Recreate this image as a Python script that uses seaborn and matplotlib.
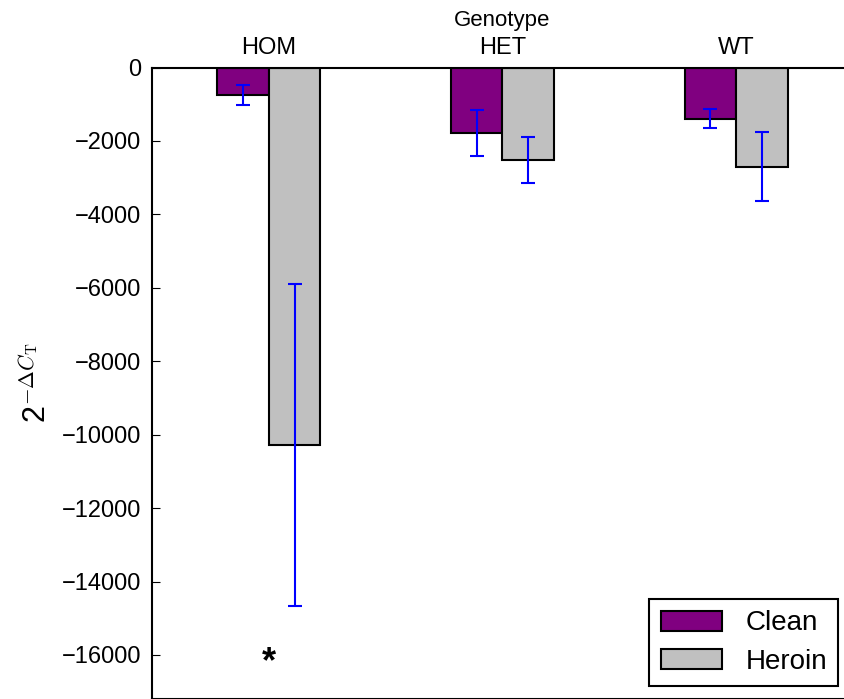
import matplotlib
matplotlib.use("Agg")
import matplotlib.pyplot as plt
import seaborn as sns
import pandas as pd

# values
genotypes = ['HOM', 'HET', 'WT']
treatments = ['Clean', 'Heroin']
clean_mean = [-750, -1780, -1390]
heroin_mean = [-10290, -2520, -2700]
clean_err = [265, 635, 250]
heroin_err = [4390, 615, 930]
colors = ['#800080', '#c0c0c0']

df = pd.DataFrame({
    'Genotype': genotypes * 2,
    'Treatment': ['Clean'] * 3 + ['Heroin'] * 3,
    'value': clean_mean + heroin_mean,
})
errs = {'Clean': clean_err, 'Heroin': heroin_err}

sns.set_style('ticks', {'text.color': 'black', 'axes.labelcolor': 'black',
                        'xtick.color': 'black', 'ytick.color': 'black',
                        'axes.edgecolor': 'black'})
plt.rcParams['font.family'] = ['Liberation Sans', 'DejaVu Sans']
plt.rcParams['mathtext.fontset'] = 'cm'

fig = plt.figure(figsize=(8.45, 6.99), dpi=100)
ax = fig.add_axes([152 / 845, 0, 701 / 845, 1 - 67.5 / 699])

sns.barplot(data=df, x='Genotype', y='value', hue='Treatment', order=genotypes,
            hue_order=treatments, palette=colors, saturation=1, width=0.44, gap=0,
            errorbar=None, edgecolor='black', linewidth=1.5, ax=ax)

# error bars on top of the bars seaborn drew
for cont, t in zip(ax.containers, treatments):
    xs = [b.get_x() + b.get_width() / 2 for b in cont]
    ys = [b.get_y() + b.get_height() for b in cont]
    ax.errorbar(xs, ys, yerr=errs[t], fmt='none', ecolor='blue', elinewidth=1.5,
                capsize=5, capthick=1.5, zorder=5)

# significance mark
ax.annotate('*', (0, -16000), xytext=(0, -8), textcoords='offset pixels',
            ha='center', va='center', fontsize=26, fontweight='bold')

ax.set_xlim(-0.5, 2.5)
ax.set_ylim(-17200, 0)
ax.set_yticks(range(-16000, 1, 2000))
ax.xaxis.tick_top()
ax.xaxis.set_label_position('top')
ax.tick_params(axis='x', length=0, labelsize=17, pad=6)
ax.tick_params(axis='y', direction='in', right=True, length=6, labelsize=17, pad=8)
ax.set_xlabel('Genotype', fontsize=16, labelpad=8)
ax.set_ylabel('2$^{-\\Delta C_\\mathrm{T}}$', fontsize=22, labelpad=6)
for s in ax.spines.values():
    s.set_linewidth(1.5)

leg = ax.legend(loc='lower right', bbox_to_anchor=(838 / 845, 1 - 686 / 699),
                bbox_transform=fig.transFigure, borderaxespad=0, fontsize=20,
                fancybox=False, framealpha=1, edgecolor='black', handlelength=2.2,
                handleheight=0.75, handletextpad=0.85, labelspacing=0.45, title=None)
leg.get_frame().set_linewidth(1.5)

fig.savefig('out.png', dpi=100)
